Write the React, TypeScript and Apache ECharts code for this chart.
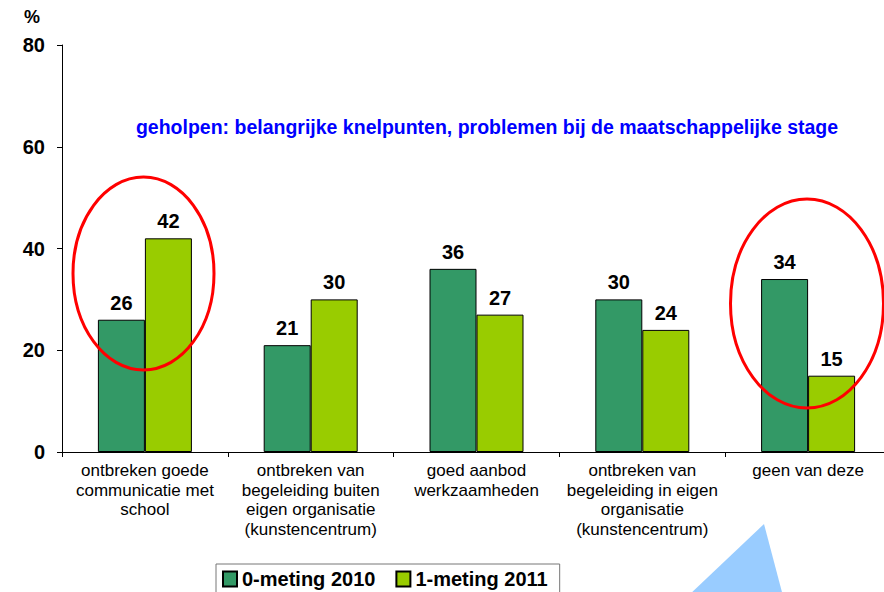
import React, { useEffect, useRef } from "react";
import * as echarts from "echarts";

const categories = [
  "ontbreken goede\ncommunicatie met\nschool",
  "ontbreken van\nbegeleiding buiten\neigen organisatie\n(kunstencentrum)",
  "goed aanbod\nwerkzaamheden",
  "ontbreken van\nbegeleiding in eigen\norganisatie\n(kunstencentrum)",
  "geen van deze",
];
const series2010 = [26, 21, 36, 30, 34];
const series2011 = [42, 30, 27, 24, 15];
const seriesNames = ["0-meting 2010", "1-meting 2011"];
const subtitle = "geholpen: belangrijke knelpunten, problemen bij de maatschappelijke stage";

const FONT = "'Liberation Sans', Arial, sans-serif";

export default function App() {
  const ref = useRef<HTMLDivElement>(null);
  useEffect(() => {
    if (!ref.current) return;
    const chart = echarts.init(ref.current, null, { renderer: "svg" });
    const labelStyle = {
      show: true,
      position: "top" as const,
      distance: 7,
      color: "#000",
      fontSize: 20,
      fontWeight: "bold" as const,
      fontFamily: FONT,
    };
    chart.setOption({
      animation: false,
      backgroundColor: "#fff",
      textStyle: { fontFamily: FONT },
      grid: { left: 62, top: 45, width: 829, height: 407, containLabel: false },
      legend: {
        left: 216,
        top: 564,
        padding: [5, 12, 12, 6],
        borderColor: "#777",
        borderWidth: 1,
        itemWidth: 14,
        itemHeight: 15,
        itemGap: 20,
        icon: "rect",
        textStyle: { fontSize: 20, fontWeight: "bold", color: "#000", fontFamily: FONT, padding: [0, 0, 0, 0] },
        data: seriesNames,
      },
      xAxis: {
        type: "category",
        data: categories,
        axisLine: { lineStyle: { color: "#000", width: 1 } },
        axisTick: { show: true, alignWithLabel: false, length: 5, lineStyle: { color: "#000" } },
        axisLabel: {
          interval: 0,
          margin: 9,
          color: "#000",
          fontSize: 17,
          lineHeight: 19.5,
          fontFamily: FONT,
        },
      },
      yAxis: {
        type: "value",
        min: 0,
        max: 80,
        interval: 20,
        splitLine: { show: false },
        axisLine: { show: true, lineStyle: { color: "#000", width: 1 } },
        axisTick: { show: true, length: 5, lineStyle: { color: "#000" } },
        axisLabel: {
          margin: 17,
          color: "#000",
          fontSize: 20,
          fontWeight: "bold",
          fontFamily: FONT,
        },
      },
      series: [
        {
          name: seriesNames[0],
          type: "bar",
          data: series2010,
          barWidth: 47,
          barGap: "0%",
          itemStyle: { color: "#339966", borderColor: "#000", borderWidth: 1 },
          label: labelStyle,
        },
        {
          name: seriesNames[1],
          type: "bar",
          data: series2011,
          barWidth: 47,
          barGap: "0%",
          itemStyle: { color: "#99CC00", borderColor: "#000", borderWidth: 1 },
          label: labelStyle,
        },
      ],
      graphic: [
        {
          type: "text",
          left: 24,
          top: 8,
          style: { text: "%", fontSize: 18, fontWeight: "bold", fill: "#000", fontFamily: FONT },
        },
        {
          type: "text",
          x: 487,
          y: 127,
          style: {
            text: subtitle,
            fontSize: 19.5,
            fontWeight: "bold",
            fill: "#0000FF",
            fontFamily: FONT,
            align: "center",
            verticalAlign: "middle",
          },
        },
        {
          type: "ellipse",
          shape: { cx: 143.5, cy: 273.5, rx: 70.5, ry: 96.5 },
          style: { fill: "none", stroke: "#FF0000", lineWidth: 3 },
          z: 100,
        },
        {
          type: "ellipse",
          shape: { cx: 807, cy: 303.5, rx: 76.5, ry: 104.5 },
          style: { fill: "none", stroke: "#FF0000", lineWidth: 3 },
          z: 100,
        },
        {
          type: "polygon",
          shape: { points: [[764, 524], [688, 596], [783, 596]] },
          style: { fill: "#99CCFF" },
          z: 100,
        },
      ],
    });
    return () => chart.dispose();
  }, []);
  return (
    <div
      style={{ position: "fixed", left: 0, top: 0, width: 884, height: 592, overflow: "hidden", background: "#fff" }}
    >
      <div ref={ref} style={{ width: 910, height: 592 }} />
    </div>
  );
}
